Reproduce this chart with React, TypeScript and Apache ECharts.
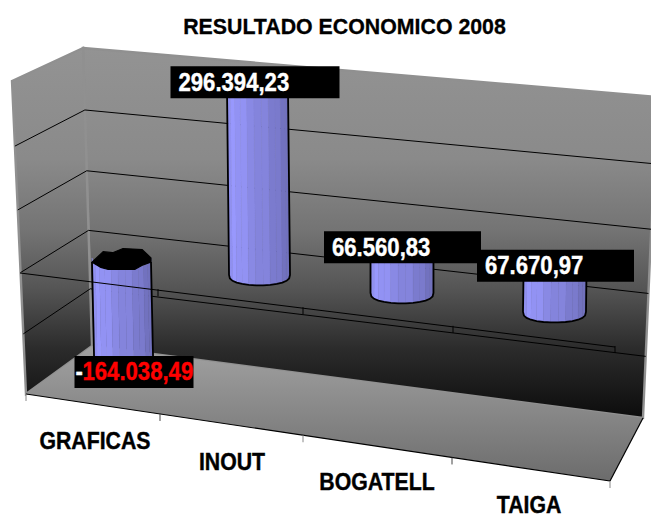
import React, { useEffect, useRef } from "react";
import * as echarts from "echarts";

const TITLE = "RESULTADO ECONOMICO 2008";
const categories = ["GRAFICAS", "INOUT", "BOGATELL", "TAIGA"];
const resultValues = [-164038.49, 296394.23, 66560.83, 67670.97];
const wallLevels = [200000, 100000, 0, -100000];

// ---- layout of the 3D box (not data) ----
const FONT = "'Liberation Sans', Arial, sans-serif";
const BW = { tl: [83, 48], tr: [657, 97], br: [643, 418], bl: [92, 346] };
const LW = { tl: [12, 81], bl: [26, 394] };
const FRONT = [610, 481];
const GRID = { top: 30, height: 320, left: 50, width: 576 };
const labelLeftOffset = [-47, -87, -78, -78];
const labelWidth = [119, 169, 157, 157];
const catLabelPos = [[95, 441], [232, 462], [377, 482], [529, 505]];
const floorTickX = [26, 160, 303, 452, 610];
const zeroTickX = [158, 303, 453, 615];
const radiusX = [29.5, 30.5, 31.5, 31.5];
const capOutline = [[-1, 0.4], [-0.62, -0.6], [-0.3, -0.5], [0.05, -0.9], [0.7, -0.8], [1, 0], [1, 0.4], [0.7, 0.7], [0.45, 1.1], [-0.45, 1.1], [-0.7, 0.9]];
const FACETS = 13;

const lerp = (a: number[], b: number[], t: number) => [a[0] + (b[0] - a[0]) * t, a[1] + (b[1] - a[1]) * t];
const warpX = (px: number) => {
  const s = (px - 122) / 144;
  return 121.5 + 131.75 * s + 4.25 * s * s;
};
const depthY = (x: number) => 36 + (x - 122) * 0.1247;
const wallF = (f: number) => f + 0.05 * f * (1 - f);
const fmt = (v: number) => {
  const [i, d] = Math.abs(v).toFixed(2).split(".");
  return i.replace(/\B(?=(\d{3})+$)/g, ".") + "," + d;
};
const facetColor = (t: number) => {
  const k = t < 0.2 ? 0.95 + 0.05 * (t / 0.2) : 1 - 0.29 * ((t - 0.2) / 0.8);
  const jitter = Math.round(t * FACETS) % 2 === 0 ? 1 : 0.97;
  const c = (n: number) => Math.round(n * k * jitter);
  return `rgb(${c(153)},${c(153)},${c(255)})`;
};

const line = (a: number[], b: number[], stroke = "#000", lineWidth = 1) => ({
  type: "line",
  shape: { x1: a[0], y1: a[1], x2: b[0], y2: b[1] },
  style: { stroke, lineWidth },
});

function renderWalls(params: any, api: any) {
  const wallFill = new echarts.graphic.LinearGradient(0, 48, 0, 418, [
    { offset: 0, color: "#939393" },
    { offset: 0.3, color: "#8a8a8a" },
    { offset: 0.49, color: "#747474" },
    { offset: 0.65, color: "#555555" },
    { offset: 0.81, color: "#2c2c2c" },
    { offset: 1, color: "#0c0c0c" },
  ], true as any);
  const floorFill = new echarts.graphic.LinearGradient(0, 350, 0, 481, [
    { offset: 0, color: "#a0a0a0" },
    { offset: 1, color: "#6c6c6c" },
  ], true as any);
  return {
    type: "group",
    children: [
      { type: "polygon", shape: { points: [BW.tl, BW.tr, BW.br, BW.bl] }, style: { fill: wallFill, stroke: "#909090", lineWidth: 2.4 } },
      { type: "polygon", shape: { points: [LW.tl, BW.tl, BW.bl, LW.bl] }, style: { fill: wallFill, stroke: "#909090", lineWidth: 2.4 } },
      { type: "polygon", shape: { points: [BW.bl, BW.br, FRONT, LW.bl] }, style: { fill: floorFill } },
      line(FRONT, BW.br, "#000", 1.2),
      line(LW.bl, FRONT, "#000", 1.2),
      ...floorTickX.map((x, i) => {
        const y = LW.bl[1] + ((x - LW.bl[0]) / (FRONT[0] - LW.bl[0])) * (FRONT[1] - LW.bl[1]);
        return line([x, y], [x, y + 7], i % 2 ? "#444" : "#888", 1);
      }),
    ],
  };
}

function renderGridLine(params: any, api: any) {
  const v = api.value(0);
  const f = wallF((api.coord([0, v])[1] - GRID.top) / GRID.height);
  const corner = lerp(BW.tl, BW.bl, f);
  const right = lerp(BW.tr, BW.br, f);
  const left = lerp(LW.tl, LW.bl, f);
  return {
    type: "group",
    children: [line(left, corner), line(corner, right)],
  };
}

function renderCylinder(params: any, api: any) {
  const i = params.dataIndex;
  const v = api.value(1);
  const cx = warpX(api.coord([i, 0])[0]);
  const shift = depthY(cx);
  const y0 = api.coord([i, 0])[1] + shift;
  const yv = api.coord([i, v])[1] + shift;
  const topY = Math.min(y0, yv);
  const botY = Math.max(y0, yv);
  const rx = radiusX[i];
  const ry = 10.5;
  const lean = ((400 - cx) / 400) * 0.03;
  const X = (dx: number, y: number) => cx + dx + (y - topY) * lean;
  const children: any[] = [];
  const outline: number[][] = [];
  const rim: number[][] = [];
  for (let k = 0; k <= FACETS; k++) {
    const th = (Math.PI * k) / FACETS;
    rim.push([-Math.cos(th) * rx, Math.pow(Math.max(Math.sin(th), 0), 0.75) * ry]);
  }
  for (let k = 0; k < FACETS; k++) {
    const a = rim[k];
    const b = rim[k + 1];
    children.push({
      type: "polygon",
      shape: {
        points: [
          [X(a[0], topY), topY + a[1]],
          [X(b[0], topY), topY + b[1]],
          [X(b[0], botY), botY + b[1]],
          [X(a[0], botY), botY + a[1]],
        ],
      },
      style: { fill: facetColor(k / (FACETS - 1)), stroke: facetColor(k / (FACETS - 1)), lineWidth: 0.4 },
    });
  }
  const cap = capOutline.map((p) => [cx + p[0] * rx, topY + p[1] * ry]);
  rim.forEach((p) => outline.push([X(p[0], botY), botY + p[1]]));
  children.push({
    type: "polyline",
    shape: { points: [[X(-rx, topY), topY + 4], ...outline, [X(rx, topY), topY + 4]] },
    style: { stroke: "#000", lineWidth: 1.8, fill: "none" },
  });
  children.push({ type: "polygon", shape: { points: cap }, style: { fill: "#000", stroke: "#000", lineWidth: 1.2 } });
  return { type: "group", children };
}

function renderZeroPlane(params: any, api: any) {
  const a = [20, 273];
  const b = zeroTickX[3];
  const yAt = (x: number) => a[1] + ((x - a[0]) / (b - a[0])) * (347 - a[1]);
  return {
    type: "group",
    children: [
      line(a, [b, yAt(b)]),
      ...zeroTickX.map((x) => line([x, yAt(x) - 1], [x, yAt(x) + 6])),
    ],
  };
}

function renderLabel(params: any, api: any) {
  const i = params.dataIndex;
  const v = api.value(1);
  const cx = warpX(api.coord([i, 0])[0]);
  const yv = api.coord([i, v])[1] + depthY(cx);
  const left = cx + labelLeftOffset[i];
  const top = yv + (v < 0 ? -7 : -19);
  const children: any[] = [
    { type: "rect", shape: { x: left, y: top, width: labelWidth[i], height: 32 }, style: { fill: "#000" } },
  ];
  const textStyle = (text: string, fill: string) => ({
    text,
    fill,
    stroke: fill,
    lineWidth: 0.4,
    fontFamily: FONT,
    fontWeight: "bold",
    fontSize: 25,
    verticalAlign: "middle",
    align: "left",
  });
  if (v < 0) {
    children.push({ type: "text", x: left + 1, y: top + 16, scaleX: 0.885, style: textStyle("-", "#fff") });
  }
  children.push({
    type: "text",
    x: left + 8,
    y: top + 16,
    scaleX: 0.885,
    style: textStyle(fmt(v), v < 0 ? "#ff0000" : "#fff"),
  });
  return { type: "group", children };
}

function renderCategory(params: any, api: any) {
  const i = params.dataIndex;
  return {
    type: "text",
    x: catLabelPos[i][0],
    y: catLabelPos[i][1],
    scaleX: 0.925,
    style: {
      text: categories[i],
      fill: "#000",
      stroke: "#000",
      lineWidth: 0.4,
      fontFamily: FONT,
      fontWeight: "bold",
      fontSize: 23,
      align: "center",
      verticalAlign: "middle",
    },
  };
}

function renderTitle() {
  return {
    type: "text",
    x: 344.5,
    y: 26,
    scaleX: 0.97,
    style: {
      text: TITLE,
      fill: "#000",
      stroke: "#000",
      lineWidth: 0.3,
      fontFamily: FONT,
      fontWeight: "bold",
      fontSize: 22,
      align: "center",
      verticalAlign: "middle",
    },
  };
}

export default function App() {
  const ref = useRef<HTMLDivElement>(null);
  useEffect(() => {
    document.body.style.margin = "0";
    const chart = echarts.init(ref.current!, undefined, { renderer: "svg" });
    const barData = resultValues.map((v, i) => [i, v]);
    chart.setOption({
      animation: false,
      backgroundColor: "#fff",
      grid: { left: GRID.left, width: GRID.width, top: GRID.top, height: GRID.height },
      xAxis: { type: "category", data: categories, show: false },
      yAxis: { type: "value", min: -200000, max: 300000, interval: 100000, show: false },
      series: [
        { type: "custom", z: 1, silent: true, clip: false, data: [[0, 0]], renderItem: renderWalls, encode: { x: 0, y: 1 } },
        { type: "custom", z: 2, silent: true, clip: false, data: wallLevels.map((v) => [v]), renderItem: renderGridLine, encode: { y: 0 } },
        { type: "custom", z: 3, silent: true, clip: false, data: barData, renderItem: renderCylinder, encode: { x: 0, y: 1 } },
        { type: "custom", z: 4, silent: true, clip: false, data: [[0, 0]], renderItem: renderZeroPlane, encode: { x: 0, y: 1 } },
        { type: "custom", z: 5, silent: true, clip: false, data: barData, renderItem: renderLabel, encode: { x: 0, y: 1 } },
        { type: "custom", z: 5, silent: true, clip: false, data: barData, renderItem: renderCategory, encode: { x: 0, y: 1 } },
        { type: "custom", z: 5, silent: true, clip: false, data: [[0, 0]], renderItem: renderTitle, encode: { x: 0, y: 1 } },
      ],
    });
    return () => chart.dispose();
  }, []);
  return <div ref={ref} style={{ width: 651, height: 518, position: "absolute", left: 0, top: 0 }} />;
}
